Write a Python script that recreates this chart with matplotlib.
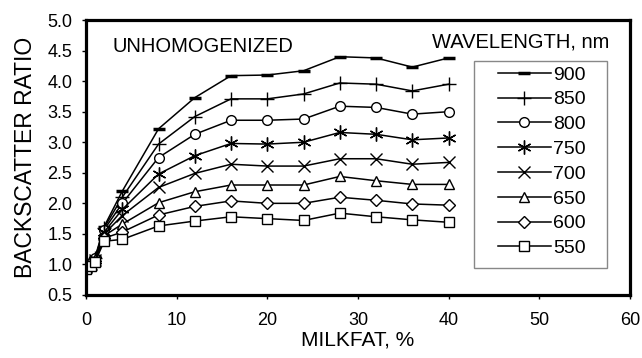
import matplotlib
matplotlib.use("Agg")
import matplotlib.pyplot as plt
from matplotlib.patches import Rectangle

plt.rcParams['font.family'] = ['Liberation Sans', 'DejaVu Sans']

milkfat = [0, 0.5, 1, 2, 4, 8, 12, 16, 20, 24, 28, 32, 36, 40]
wavelengths = ["900", "850", "800", "750", "700", "650", "600", "550"]
r900 = [1.00, 1.02, 1.12, 1.62, 2.20, 3.22, 3.73, 4.09, 4.10, 4.17, 4.40, 4.38, 4.23, 4.38]
r850 = [1.00, 1.03, 1.10, 1.60, 2.10, 2.97, 3.42, 3.71, 3.71, 3.79, 3.97, 3.95, 3.84, 3.95]
r800 = [0.98, 1.03, 1.10, 1.57, 2.00, 2.75, 3.13, 3.36, 3.36, 3.38, 3.59, 3.57, 3.46, 3.50]
r750 = [0.97, 1.02, 1.08, 1.53, 1.90, 2.48, 2.78, 2.98, 2.97, 3.00, 3.16, 3.13, 3.04, 3.07]
r700 = [0.96, 1.00, 1.07, 1.50, 1.80, 2.26, 2.49, 2.64, 2.61, 2.61, 2.73, 2.73, 2.64, 2.67]
r650 = [0.95, 1.00, 1.06, 1.47, 1.66, 2.01, 2.19, 2.30, 2.30, 2.30, 2.44, 2.37, 2.31, 2.31]
r600 = [0.94, 0.98, 1.05, 1.43, 1.53, 1.81, 1.95, 2.04, 2.00, 2.00, 2.10, 2.05, 1.99, 1.97]
r550 = [0.93, 0.97, 1.04, 1.38, 1.41, 1.63, 1.71, 1.78, 1.75, 1.72, 1.84, 1.78, 1.73, 1.69]
series = [r900, r850, r800, r750, r700, r650, r600, r550]

markers = ['_', '+', 'o', (6, 2, 0), 'x', '^', 'D', 's']
msizes = [9, 10, 7, 10, 9, 7, 6, 7]

fig = plt.figure(figsize=(6.42, 3.58), dpi=100)
ax = fig.add_axes([0.134, 0.176, 0.847, 0.768])

for lab, ys, m, ms in zip(wavelengths, series, markers, msizes):
    mew = 2.5 if m == '_' else 1.0
    ax.plot(milkfat, ys, color='black', lw=1.1, marker=m, ms=ms,
            mfc='white' if m in ('o', '^', 'D', 's') else 'black',
            mec='black', mew=mew, label=lab)

ax.set_xlim(0, 60)
ax.set_ylim(0.5, 5.0)
ax.set_xticks(range(0, 61, 10))
ax.set_yticks([0.5, 1.0, 1.5, 2.0, 2.5, 3.0, 3.5, 4.0, 4.5, 5.0])
ax.set_yticklabels(["%.1f" % v for v in ax.get_yticks()])
ax.tick_params(direction='out', length=3, width=1, labelsize=13, pad=7)
ax.tick_params(axis='x', pad=9)
for s in ax.spines.values():
    s.set_linewidth(2.3)

ax.set_xlabel("MILKFAT, %", fontsize=15, labelpad=1)
ax.set_ylabel("BACKSCATTER RATIO", fontsize=16.5, labelpad=7)

ax.text(0.048, 0.905, "UNHOMOGENIZED", transform=ax.transAxes, fontsize=14.5,
        ha='left', va='center')
ax.text(0.80, 0.92, "WAVELENGTH, nm", transform=ax.transAxes, fontsize=14.5,
        ha='center', va='center')

ax.add_patch(Rectangle((0.713, 0.098), 0.245, 0.753, transform=ax.transAxes,
                       fill=True, facecolor='white', edgecolor='#888888',
                       lw=1.0, zorder=4))
leg = ax.legend(loc='upper left', bbox_to_anchor=(0.757, 0.833), fontsize=14,
                frameon=False, handlelength=2.75, handletextpad=0.1,
                labelspacing=0.37, borderpad=0, borderaxespad=0)
leg.set_zorder(5)

fig.savefig("out.png", dpi=100)
